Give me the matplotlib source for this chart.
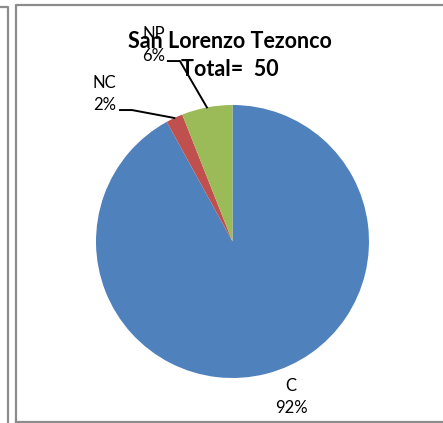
import numpy as np
import matplotlib
matplotlib.use('Agg')
import matplotlib.pyplot as plt
from matplotlib.lines import Line2D

plt.rcParams['font.family'] = ['Lato', 'DejaVu Sans']

# Data
categories = ['C', 'NC', 'NP']
counts = [46, 1, 3]
colors = ['#4F81BD', '#C0504D', '#9BBB59']
title_place = 'San Lorenzo Tezonco'
total = sum(counts)

W, H = 443, 423
fig = plt.figure(figsize=(W / 100, H / 100), dpi=100)

# frames (pixel coordinates converted to figure fraction)
def px(x, y):
    return x / W, 1 - y / H

frame_col = '#8c8c8c'
for xs, ys in [([0, 7.5, 7.5], [7.5, 7.5, 423]),
               ([15.5, 15.5, 443], [423, 5.5, 5.5]),
               ([15.5, 443], [422, 422])]:
    pts = [px(x, y) for x, y in zip(xs, ys)]
    fig.add_artist(Line2D([p[0] for p in pts], [p[1] for p in pts],
                          transform=fig.transFigure, color=frame_col, lw=1.6))

# pie axes
cx, cy, r = 232.5, 241.5, 136.5
ax = fig.add_axes([(cx - r) / W, (H - cy - r) / H, 2 * r / W, 2 * r / H])
wedges, _ = ax.pie(counts, colors=colors, startangle=90, counterclock=False,
                   radius=1, wedgeprops=dict(linewidth=0))
ax.set_xlim(-1, 1)
ax.set_ylim(-1, 1)
ax.axis('off')

pcts = [round(100 * c / total) for c in counts]

# data labels
ax.text(0.43, -1.14, f'{categories[0]}\n{pcts[0]}%', ha='center', va='center',
        fontsize=12, linespacing=1.45, clip_on=False)

label_pos = {1: (-0.94, 1.08), 2: (-0.58, 1.44)}
line_start = {1: (-0.824, 0.963), 2: (-0.473, 1.322)}
for i in (1, 2):
    w = wedges[i]
    mid = np.deg2rad((w.theta1 + w.theta2) / 2)
    ex, ey = np.cos(mid), np.sin(mid)
    tx, ty = label_pos[i]
    ax.text(tx, ty, f'{categories[i]}\n{pcts[i]}%', ha='center', va='center',
            fontsize=12, linespacing=1.5, clip_on=False)
    sx, sy = line_start[i]
    ax.plot([sx, sx + 0.088, ex], [sy, sy, ey], color='black', lw=1.4,
            clip_on=False)

# title
fig.text(*px(230, 41), title_place, ha='center', va='center',
         fontsize=15.5, fontweight='bold')
fig.text(*px(230, 70), f'Total=  {total}', ha='center', va='center',
         fontsize=15.5, fontweight='bold')

fig.savefig('out.png', dpi=100)
